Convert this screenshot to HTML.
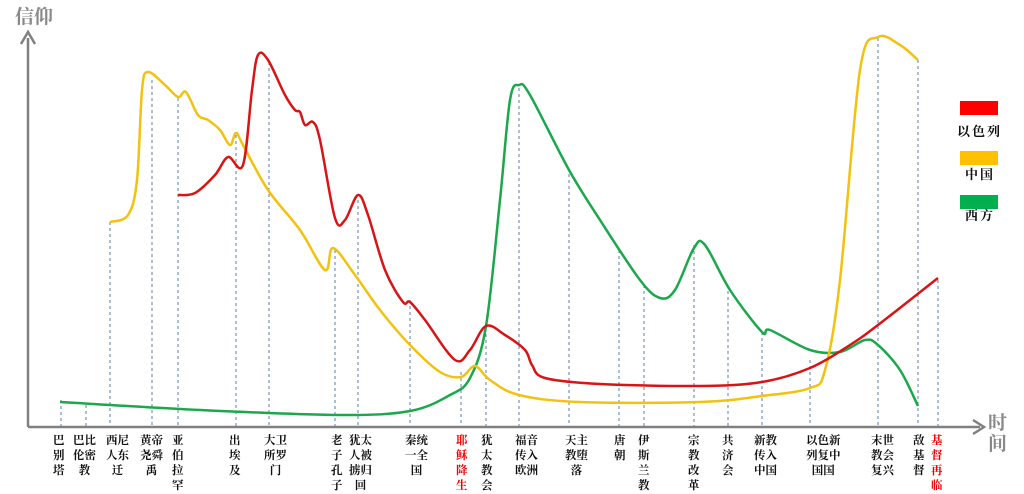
<!DOCTYPE html><html><head><meta charset="utf-8"><style>
body{margin:0;background:#fff;width:1024px;height:494px;overflow:hidden;position:relative;font-family:"Liberation Sans","Noto Serif CJK SC","Noto Sans CJK SC",serif}
.lb{position:absolute;top:433px;font-size:11.5px;line-height:15px;color:#111;font-weight:bold;text-align:center;white-space:nowrap;font-family:"Noto Serif CJK SC",serif}
.r{color:#e00}
</style></head><body>
<svg width="1024" height="494" style="position:absolute;left:0;top:0">
<g stroke="#5a7fa8" stroke-width="1" stroke-dasharray="3,3" id="dl"></g>
<line x1="28" y1="427" x2="28" y2="38" stroke="#808080" stroke-width="2.5"/>
<path d="M21 44 L28 32 L35 44" fill="none" stroke="#808080" stroke-width="2.5"/>
<line x1="28" y1="427" x2="980" y2="427" stroke="#808080" stroke-width="2.5"/>
<path d="M973 420 L984 427 L973 434" fill="none" stroke="#808080" stroke-width="2.5"/>
<path id="g" fill="none" stroke="#1aa84a" stroke-width="2.5"/>
<path id="y" fill="none" stroke="#f2c20f" stroke-width="2.5"/>
<path id="rd" fill="none" stroke="#d81414" stroke-width="2.5"/>
<rect x="960" y="101" width="38" height="14" fill="#ff0000"/>
<rect x="960" y="151" width="38" height="14" fill="#ffc000"/>
<rect x="960" y="195" width="38" height="14" fill="#00b050"/>
<text x="15" y="23" font-size="19" font-weight="bold" fill="#888">信仰</text>
<text x="988" y="429" font-size="19" font-weight="bold" fill="#888">时</text>
<text x="988" y="450" font-size="19" font-weight="bold" fill="#888">间</text>
<g font-size="13" font-weight="bold" fill="#111" font-family="Noto Serif CJK SC,serif">
<text x="957" y="136" letter-spacing="2">以色列</text>
<text x="965" y="179" letter-spacing="2">中国</text>
<text x="965" y="220" letter-spacing="2">西方</text></g>
</svg>
<div class="lb" style="left:53px">巴<br>别<br>塔</div>
<div class="lb" style="left:73px">巴比<br>伦密<br>教</div>
<div class="lb" style="left:106px">西尼<br>人东<br>迁</div>
<div class="lb" style="left:140px">黄帝<br>尧舜<br>禹</div>
<div class="lb" style="left:172px">亚<br>伯<br>拉<br>罕</div>
<div class="lb" style="left:229px">出<br>埃<br>及</div>
<div class="lb" style="left:264px">大卫<br>所罗<br>门</div>
<div class="lb" style="left:331px">老<br>子<br>孔<br>子</div>
<div class="lb" style="left:349px">犹太<br>人被<br>掳归<br>回</div>
<div class="lb" style="left:405px">秦统<br>一全<br>国</div>
<div class="lb r" style="left:456px">耶<br>稣<br>降<br>生</div>
<div class="lb" style="left:481px">犹<br>太<br>教<br>会</div>
<div class="lb" style="left:515px">福音<br>传入<br>欧洲</div>
<div class="lb" style="left:565px">天主<br>教堕<br>落</div>
<div class="lb" style="left:614px">唐<br>朝</div>
<div class="lb" style="left:638px">伊<br>斯<br>兰<br>教</div>
<div class="lb" style="left:688px">宗<br>教<br>改<br>革</div>
<div class="lb" style="left:722px">共<br>济<br>会</div>
<div class="lb" style="left:754px">新教<br>传入<br>中国</div>
<div class="lb" style="left:806px">以色新<br>列复中<br>国国</div>
<div class="lb" style="left:871px">末世<br>教会<br>复兴</div>
<div class="lb" style="left:913px">敌<br>基<br>督</div>
<div class="lb r" style="left:931px">基<br>督<br>再<br>临</div>
<script>
function cr(p){let d="M"+p[0][0]+" "+p[0][1];for(let i=0;i<p.length-1;i++){const a=p[i-1]||p[i],b=p[i],c=p[i+1],e=p[i+2]||c;d+=" C"+(b[0]+(c[0]-a[0])/6).toFixed(1)+" "+(b[1]+(c[1]-a[1])/6).toFixed(1)+" "+(c[0]-(e[0]-b[0])/6).toFixed(1)+" "+(c[1]-(e[1]-b[1])/6).toFixed(1)+" "+c[0]+" "+c[1];}return d;}
document.getElementById("rd").setAttribute("d",cr([[178,195],[195,193],[215,175],[228,157],[243,165],[252,90],[258,55],[268,60],[285,95],[295,110],[300,112],[305,125],[313,122],[320,140],[335,218],[345,220],[358,195],[368,215],[385,270],[403,302],[410,302],[425,320],[455,360],[470,350],[486,326],[505,335],[525,350],[532,365],[545,378],[600,384],[700,386],[762,382],[810,368],[850,345],[878,325],[938,278]]));
document.getElementById("y").setAttribute("d",cr([[110,222],[128,215],[137,180],[142,90],[148,72],[165,85],[178,97],[186,92],[198,115],[208,120],[220,130],[230,145],[236,133],[243,145],[268,190],[300,230],[325,270],[333,248],[355,275],[380,310],[410,345],[440,372],[461,377],[475,366],[490,380],[519,395],[580,402],[700,402],[762,396],[810,388],[825,370],[840,280],[860,70],[878,37],[900,45],[918,60]]));
document.getElementById("g").setAttribute("d",cr([[60,402],[200,410],[340,415],[410,411],[450,395],[470,378],[486,326],[500,200],[510,100],[519,85],[530,95],[569,170],[600,220],[640,280],[660,298],[675,290],[694,248],[705,245],[730,290],[762,332],[770,330],[810,350],[840,352],[865,340],[878,345],[900,370],[918,406]]));
const xs=[[61,400],[86,405],[110,222],[152,80],[178,98],[236,135],[269,62],[335,250],[358,200],[410,300],[461,372],[486,328],[519,88],[569,168],[619,250],[644,285],[694,245],[728,285],[762,332],[810,360],[878,38],[918,60],[938,280]];
let h="";xs.forEach(a=>{h+=`<line x1="${a[0]}" y1="${a[1]}" x2="${a[0]}" y2="427"/>`});
document.getElementById("dl").innerHTML=h;
</script>
</body></html>
